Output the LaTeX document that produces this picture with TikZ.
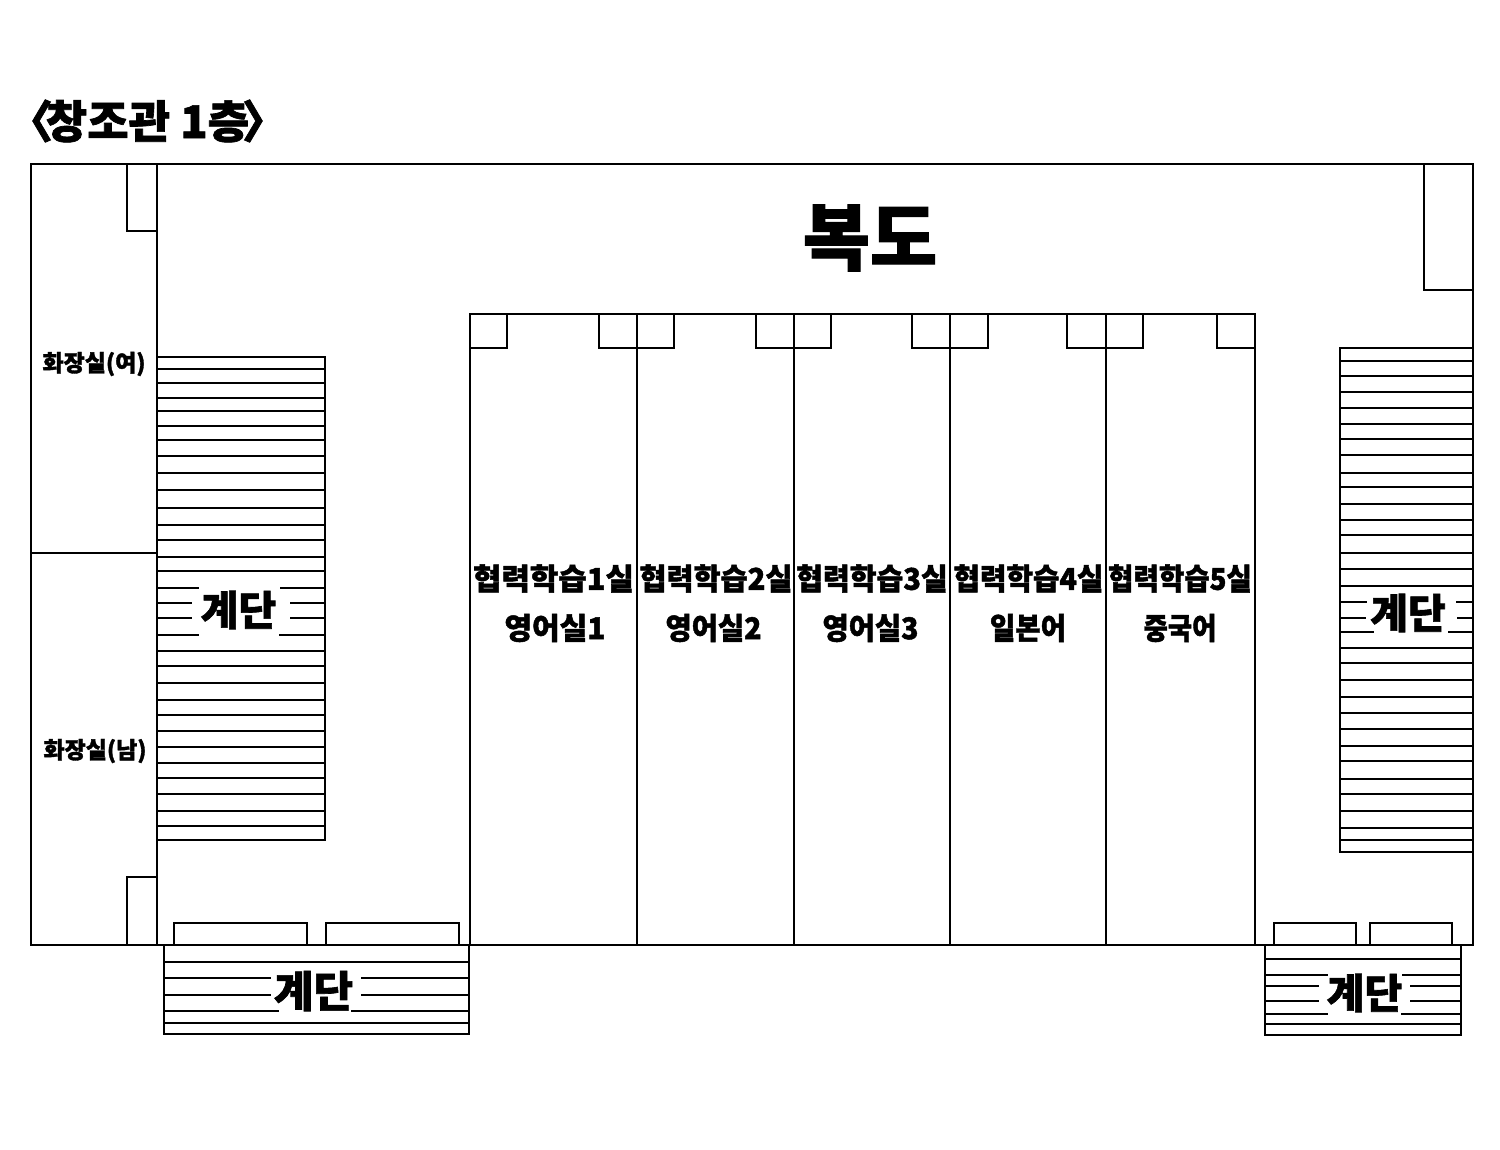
\documentclass[tikz,border=0pt]{standalone}
\usepackage{fontspec}
\newfontfamily\kr{Noto Sans CJK KR}[BoldFont={Noto Sans CJK KR Black},BoldFeatures={FakeBold=1.5}]
\tikzset{
  wall/.style={draw=black,line width=2pt,line join=miter},
  tread/.style={draw=black,line width=2pt},
  lab/.style={inner sep=0pt,font=\kr\bfseries,text=black,align=center},
}
\begin{document}
\begin{tikzpicture}[x=1pt,y=-1pt]
\useasboundingbox (0,0) rectangle (1500,1150);
\fill[white] (0,0) rectangle (1500,1150);
% outer
\draw[wall] (31,164) rectangle (1473,945);
\draw[wall] (157,164) -- (157,945);
\draw[wall] (31,553) -- (157,553);
\draw[wall] (127,164) rectangle (157,231);
\draw[wall] (127,945) rectangle (157,877);
\draw[wall] (1424,164) rectangle (1473,290);
% rooms
\draw[wall] (470,314) rectangle (1255,945);
\foreach \x in {637,794,950,1106}
  \draw[wall] (\x,314) -- (\x,945);
\foreach \a/\b in {470/507,599/637,637/674,756/794,794/831,912/950,950/988,1067/1106,1106/1143,1217/1255}
  \draw[wall] (\a,314) rectangle (\b,348);
% left stair
\draw[wall] (157,357) -- (325,357) -- (325,840) -- (157,840);
\foreach \y in {369,383,398,411,426,440,456,473,490,508,525,540,557,571,651,666,683,700,715,731,747,763,778,794,811,826}
  \draw[tread] (157,\y) -- (325,\y);
\foreach \y/\a/\b in {588/199/280,603/192/290,618/192/290,635/199/279}{
  \draw[tread] (157,\y) -- (\a,\y);
  \draw[tread] (\b,\y) -- (325,\y);}
% right stair
\draw[wall] (1473,348) -- (1340,348) -- (1340,852) -- (1473,852);
\foreach \y in {361,376,392,408,424,439,455,473,487,504,520,535,553,569,586,648,663,680,697,713,729,746,761,779,794,811,828,840}
  \draw[tread] (1340,\y) -- (1473,\y);
\foreach \y/\a/\b in {602/1367/1456,618/1366/1457,632/1374/1448}{
  \draw[tread] (1340,\y) -- (\a,\y);
  \draw[tread] (\b,\y) -- (1473,\y);}
% bottom-left stair
\draw[wall] (164,945) -- (164,1034) -- (469,1034) -- (469,945);
\foreach \y in {962,1023}
  \draw[tread] (164,\y) -- (469,\y);
\foreach \y/\a/\b in {978/271/361,995/271/361,1011/279/351}{
  \draw[tread] (164,\y) -- (\a,\y);
  \draw[tread] (\b,\y) -- (469,\y);}
\draw[wall] (174,945) -- (174,923) -- (307,923) -- (307,945);
\draw[wall] (326,945) -- (326,923) -- (459,923) -- (459,945);
% bottom-right stair
\draw[wall] (1265,945) -- (1265,1035) -- (1461,1035) -- (1461,945);
\foreach \y in {959,1024}
  \draw[tread] (1265,\y) -- (1461,\y);
\foreach \y/\a/\b in {975/1328/1402,986/1319/1410,1001/1319/1410,1014/1328/1401}{
  \draw[tread] (1265,\y) -- (\a,\y);
  \draw[tread] (\b,\y) -- (1461,\y);}
\draw[wall] (1274,945) -- (1274,923) -- (1356,923) -- (1356,945);
\draw[wall] (1370,945) -- (1370,923) -- (1452,923) -- (1452,945);
% labels
\node[lab,font=\kr\bfseries\fontsize{45}{50}\selectfont] (title) at (147.5,121) {〈\kern-.16em 창조관 1층\kern-.16em 〉};
\node[lab,font=\kr\bfseries\fontsize{73}{80}\selectfont] (hall) at (870,238) {복도};
\node[lab,font=\kr\bfseries\fontsize{23}{24}\selectfont] (wc1) at (94,364) {화장실(여)};
\node[lab,font=\kr\bfseries\fontsize{23}{24}\selectfont] (wc2) at (95,751) {화장실(남)};
\node[lab,font=\kr\bfseries\fontsize{41}{44}\selectfont] (s1) at (238.5,610) {계단};
\node[lab,font=\kr\bfseries\fontsize{41}{44}\selectfont] (s2) at (1408,613) {계단};
\node[lab,font=\kr\bfseries\fontsize{43}{46}\selectfont] (s3) at (313.5,991) {계단};
\node[lab,font=\kr\bfseries\fontsize{41}{44}\selectfont] (s4) at (1364.5,993) {계단};
\foreach \n/\x/\s/\t in {r1/553.5/1.03/협력학습1실,r2/716/.98/협력학습2실,r3/872/.97/협력학습3실,r4/1028.5/.96/협력학습4실,r5/1180/.92/협력학습5실}
  \node[lab,font=\kr\bfseries\fontsize{30}{32}\selectfont] (\n) at (\x,578.5) {\scalebox{\s}[1]{\t}};
\foreach \n/\x/\s/\t in {u1/555/1/영어실1,u2/713.5/.95/영어실2,u3/870.5/.95/영어실3,u4/1028/.92/일본어,u5/1180/.88/중국어}
  \node[lab,font=\kr\bfseries\fontsize{30}{32}\selectfont] (\n) at (\x,628) {\scalebox{\s}[1]{\t}};
\end{tikzpicture}
\end{document}
